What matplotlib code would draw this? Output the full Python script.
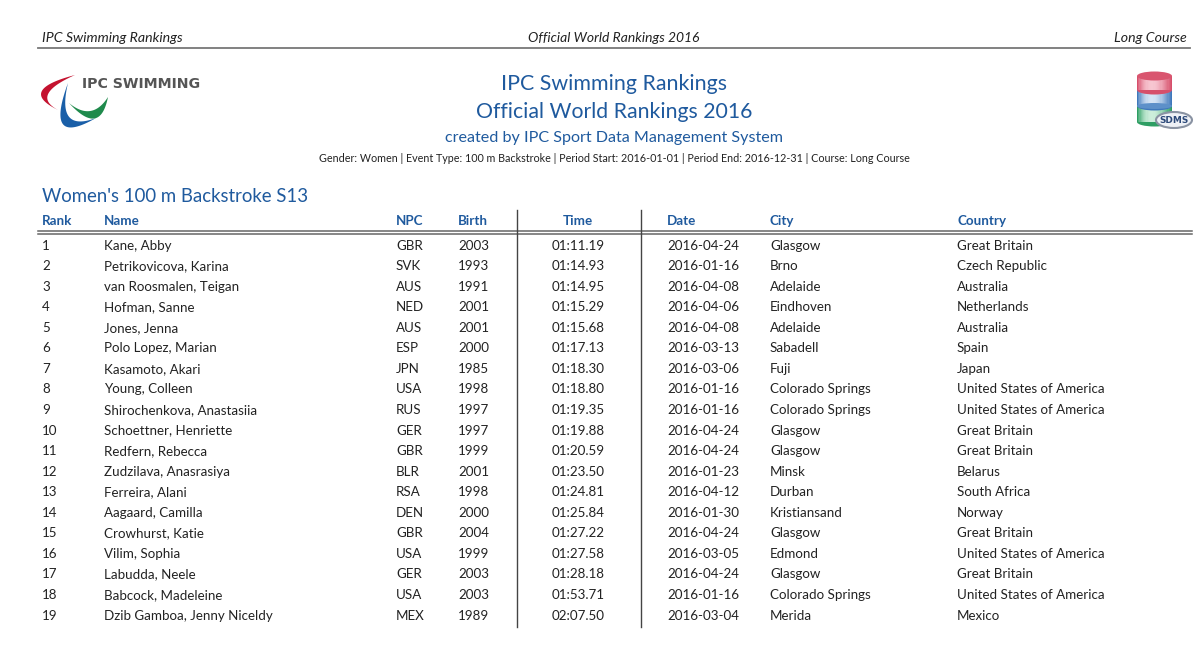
import numpy as np
import matplotlib
matplotlib.use("Agg")
import matplotlib.pyplot as plt
from matplotlib.colors import to_rgb
from matplotlib.patches import Ellipse, Polygon, Rectangle

plt.rcParams['font.family'] = ['Lato', 'DejaVu Sans']

# table data
ranks = list(range(1, 20))
names = ["Kane, Abby", "Petrikovicova, Karina", "van Roosmalen, Teigan", "Hofman, Sanne",
         "Jones, Jenna", "Polo Lopez, Marian", "Kasamoto, Akari", "Young, Colleen",
         "Shirochenkova, Anastasiia", "Schoettner, Henriette", "Redfern, Rebecca",
         "Zudzilava, Anasrasiya", "Ferreira, Alani", "Aagaard, Camilla", "Crowhurst, Katie",
         "Vilim, Sophia", "Labudda, Neele", "Babcock, Madeleine", "Dzib Gamboa, Jenny Niceldy"]
npcs = ["GBR", "SVK", "AUS", "NED", "AUS", "ESP", "JPN", "USA", "RUS", "GER", "GBR", "BLR",
        "RSA", "DEN", "GBR", "USA", "GER", "USA", "MEX"]
births = [2003, 1993, 1991, 2001, 2001, 2000, 1985, 1998, 1997, 1997, 1999, 2001, 1998, 2000,
          2004, 1999, 2003, 2003, 1989]
times = ["01:11.19", "01:14.93", "01:14.95", "01:15.29", "01:15.68", "01:17.13", "01:18.30",
         "01:18.80", "01:19.35", "01:19.88", "01:20.59", "01:23.50", "01:24.81", "01:25.84",
         "01:27.22", "01:27.58", "01:28.18", "01:53.71", "02:07.50"]
dates = ["2016-04-24", "2016-01-16", "2016-04-08", "2016-04-06", "2016-04-08", "2016-03-13",
         "2016-03-06", "2016-01-16", "2016-01-16", "2016-04-24", "2016-04-24", "2016-01-23",
         "2016-04-12", "2016-01-30", "2016-04-24", "2016-03-05", "2016-04-24", "2016-01-16",
         "2016-03-04"]
cities = ["Glasgow", "Brno", "Adelaide", "Eindhoven", "Adelaide", "Sabadell", "Fuji",
          "Colorado Springs", "Colorado Springs", "Glasgow", "Glasgow", "Minsk", "Durban",
          "Kristiansand", "Glasgow", "Edmond", "Glasgow", "Colorado Springs", "Merida"]
countries = ["Great Britain", "Czech Republic", "Australia", "Netherlands", "Australia", "Spain",
             "Japan", "United States of America", "United States of America", "Great Britain",
             "Great Britain", "Belarus", "South Africa", "Norway", "Great Britain",
             "United States of America", "Great Britain", "United States of America", "Mexico"]
headers = ["Rank", "Name", "NPC", "Birth", "Time", "Date", "City", "Country"]

BLUE = "#1f5a9e"
DARK = "#222222"

fig = plt.figure(figsize=(12, 6.5), dpi=100)
ax = fig.add_axes([0, 0, 1, 1])
ax.set_xlim(0, 1200)
ax.set_ylim(650, 0)
ax.axis("off")


def crescent(p0, p1, outer_ctrl, inner_ctrl, color):
    # two quadratic curves between the same tips
    t = np.linspace(0, 1, 40)[:, None]
    p0, p1 = np.array(p0), np.array(p1)
    outer = (1 - t) ** 2 * p0 + 2 * t * (1 - t) * np.array(outer_ctrl) + t ** 2 * p1
    inner = (1 - t) ** 2 * p0 + 2 * t * (1 - t) * np.array(inner_ctrl) + t ** 2 * p1
    ax.add_patch(Polygon(np.r_[outer, inner[::-1]], closed=True, color=color, lw=0))


def drum(top, bottom, col, light):
    # one coloured layer of the database icon
    ax.add_patch(Ellipse((1154.5, bottom), 35, 9, color=col, lw=0))
    n = 30
    for i in range(n):
        k = np.sin(np.pi * (i / (n - 1)) ** 0.8)
        c = np.array(to_rgb(col)) * (1 - k) + np.array(to_rgb(light)) * k
        ax.add_patch(Rectangle((1137 + i * 35 / n, top), 35 / n + 0.3, bottom - top, color=c, lw=0))


# running header
ax.text(42, 38, "IPC Swimming Rankings", fontsize=10.2, style="italic", color=DARK, va="center")
ax.text(614, 38, "Official World Rankings 2016", fontsize=10.0, style="italic", color=DARK,
        va="center", ha="center")
ax.text(1187, 38, "Long Course", fontsize=10.2, style="italic", color=DARK, va="center", ha="right")
ax.plot([38, 1190], [48, 48], color="#777777", lw=1.3)

# IPC logo
crescent((75, 75), (58, 110), (17, 90), (30, 95), "#c4122f")
crescent((68, 83), (96, 118), (44, 148), (56, 133), "#1a5fa8")
crescent((69, 103), (108, 97), (100, 137), (92, 122), "#1f8a4c")
ax.text(82, 83.5, "IPC SWIMMING", fontsize=10.2, fontweight="bold", family="DejaVu Sans",
        color="#555555", va="center")

# SDMS logo
drum(106, 122, "#2e9e63", "#cdeedb")
drum(90, 106, "#3f78bb", "#d5e4f5")
ax.add_patch(Ellipse((1154.5, 106), 35, 6, color="#5d90c9", lw=0))
drum(76, 90, "#d64f6b", "#f7c6d1")
ax.add_patch(Ellipse((1154.5, 76), 35, 9, color="#d9556f", lw=0))
ax.add_patch(Ellipse((1174, 120), 36, 16, fc="#eef1f6", ec="#8a93a3", lw=1.5))
ax.text(1174, 120.5, "SDMS", fontsize=6.4, fontweight="bold", family="DejaVu Sans",
        color="#2d4a7a", ha="center", va="center")

# titles
ax.text(614, 84, "IPC Swimming Rankings", fontsize=15.4, color=BLUE, ha="center", va="center")
ax.text(614, 112, "Official World Rankings 2016", fontsize=15.3, color=BLUE, ha="center", va="center")
ax.text(614, 138, "created by IPC Sport Data Management System", fontsize=11.6, color=BLUE,
        ha="center", va="center")
ax.text(614, 158, "Gender: Women | Event Type: 100 m Backstroke | Period Start: 2016-01-01 | "
        "Period End: 2016-12-31 | Course: Long Course", fontsize=7.75, color=DARK,
        ha="center", va="center")
ax.text(42, 196, "Women's 100 m Backstroke S13", fontsize=13.4, color=BLUE, va="center")

# column headers
col_x = [42, 104, 396, 458, 578, 667, 770, 957]
for h, x in zip(headers, col_x):
    ax.text(x, 221, h, fontsize=9.6, fontweight="bold", color=BLUE, va="center",
            ha="center" if h == "Time" else "left")
ax.plot([38, 1192], [231, 231], color="#666666", lw=1.1)
ax.plot([38, 1192], [234, 234], color="#666666", lw=1.1)

# rows
for i in range(len(ranks)):
    y = 245.6 + i * 20.55
    row = [ranks[i], names[i], npcs[i], births[i], times[i], dates[i], cities[i], countries[i]]
    for j, (val, x) in enumerate(zip(row, col_x)):
        ax.text(x, y, str(val), fontsize=9.6, color=DARK, va="center",
                ha="center" if j == 4 else "left")

# column separators
for x in [516.5, 641]:
    ax.plot([x, x], [210, 627], color="#444444", lw=1)

fig.savefig("out.png", dpi=100)
